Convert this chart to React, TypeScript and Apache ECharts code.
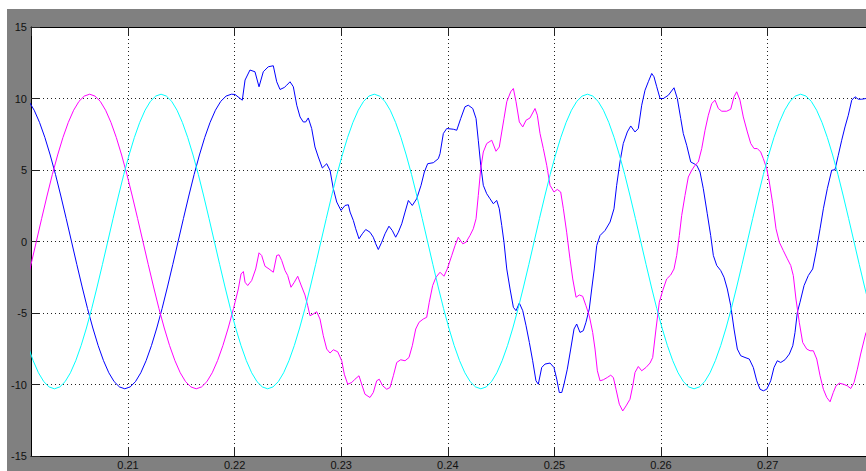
import React, { useEffect, useRef } from "react";
import * as echarts from "echarts";

// time axis in milliseconds (labels shown in seconds)
const X_MIN = 200.9;
const X_MAX = 279.23;
const xTickValues = [210, 220, 230, 240, 250, 260, 270];
const yTickValues = [-15, -10, -5, 0, 5, 10, 15];

const sampleStep = 0.5;

// cyan phase: clean sinusoid
const cyanStart = 200.6;
const cyanValues = [
  -7.28, -8.33, -9.18, -9.8, -10.17, -10.3, -10.17, -9.8, -9.18, -8.33, -7.28, -6.05, -4.68, -3.18, -1.61, 0, 1.61, 3.18, 4.68, 6.05,
  7.28, 8.33, 9.18, 9.8, 10.17, 10.3, 10.17, 9.8, 9.18, 8.33, 7.28, 6.05, 4.68, 3.18, 1.61, 0, -1.61, -3.18, -4.68, -6.05,
  -7.28, -8.33, -9.18, -9.8, -10.17, -10.3, -10.17, -9.8, -9.18, -8.33, -7.28, -6.05, -4.68, -3.18, -1.61, 0, 1.61, 3.18, 4.68, 6.05,
  7.28, 8.33, 9.18, 9.8, 10.17, 10.3, 10.17, 9.8, 9.18, 8.33, 7.28, 6.05, 4.68, 3.18, 1.61, 0, -1.61, -3.18, -4.68, -6.05,
  -7.28, -8.33, -9.18, -9.8, -10.17, -10.3, -10.17, -9.8, -9.18, -8.33, -7.28, -6.05, -4.68, -3.18, -1.61, 0, 1.61, 3.18, 4.68, 6.05,
  7.28, 8.33, 9.18, 9.8, 10.17, 10.3, 10.17, 9.8, 9.18, 8.33, 7.28, 6.05, 4.68, 3.18, 1.61, 0, -1.61, -3.18, -4.68, -6.05,
  -7.28, -8.33, -9.18, -9.8, -10.17, -10.3, -10.17, -9.8, -9.18, -8.33, -7.28, -6.05, -4.68, -3.18, -1.61, 0, 1.61, 3.18, 4.68, 6.05,
  7.28, 8.33, 9.18, 9.8, 10.17, 10.3, 10.17, 9.8, 9.18, 8.33, 7.28, 6.05, 4.68, 3.18, 1.61, 0, -1.61, -3.18, -4.68,
];

// blue phase: clean part, then distorted part
const blueCleanStart = 200.7;
const blueCleanValues = [
  9.8, 9.18, 8.33, 7.28, 6.05, 4.68, 3.18, 1.61, 0, -1.61, -3.18, -4.68, -6.05, -7.28, -8.33, -9.18, -9.8, -10.17, -10.3, -10.17,
  -9.8, -9.18, -8.33, -7.28, -6.05, -4.68, -3.18, -1.61, 0, 1.61, 3.18, 4.68, 6.05, 7.28, 8.33, 9.18, 9.8, 10.17, 10.3,
];
const blueDistorted: [number, number][] = [
  [220.04, 10.28], [220.72, 9.88], [220.98, 11.29], [221.44, 11.99], [221.91, 11.87], [222.29, 10.82], [222.69, 11.87],
  [223.16, 12.22], [223.63, 12.29], [223.95, 11.17], [224.26, 10.63], [224.66, 10.77], [224.89, 10.93], [225.2, 11.17],
  [225.51, 10.82], [225.83, 9.53], [226.14, 8.71], [226.44, 8.36], [226.67, 8.36], [226.91, 8.64], [227.23, 7.9],
  [227.54, 6.61], [227.85, 5.91], [228.23, 5.14], [228.64, 5.44], [228.95, 4.98], [229.26, 3.69], [229.58, 2.76],
  [229.98, 2.17], [230.36, 2.52], [230.67, 2.57], [230.83, 2.06], [231.14, 1.47], [231.36, 0.89], [231.67, 0.19],
  [231.98, 0.54], [232.3, 0.84], [232.7, 0.65], [233.01, 0.3], [233.24, -0.16], [233.48, -0.56], [233.8, -0.05],
  [234.11, 0.54], [234.48, 1.07], [234.79, 0.77], [235.11, 0.3], [235.36, 0.65], [235.68, 1.24], [235.99, 2.06],
  [236.3, 2.87], [236.67, 2.52], [237.08, 2.99], [237.49, 3.93], [237.8, 4.86], [238.11, 5.44], [238.64, 5.51],
  [239.11, 5.79], [239.27, 6.14], [239.58, 7.55], [239.9, 7.9], [240.52, 7.85], [240.84, 7.78], [241.21, 8.6],
  [241.61, 9.42], [241.92, 9.53], [242.34, 9.3], [242.65, 8.6], [242.86, 7.08], [243.09, 5.33], [243.33, 3.93],
  [243.65, 3.34], [243.96, 2.99], [244.27, 2.64], [244.59, 2.87], [244.83, 2.29], [245.06, 1.12], [245.27, -0.05],
  [245.53, -1.92], [245.84, -3.32], [246.15, -4.6], [246.4, -4.84], [246.71, -4.3], [247.03, -4.84], [247.34, -5.89],
  [247.65, -7.06], [247.96, -8.34], [248.27, -9.74], [248.49, -9.98], [248.81, -8.81], [249.12, -8.57], [249.59, -8.5],
  [249.96, -8.81], [250.22, -9.63], [250.46, -10.56], [250.69, -10.56], [250.9, -9.98], [251.21, -8.93], [251.53, -7.52],
  [251.84, -6.12], [252.09, -5.77], [252.4, -6.36], [252.71, -6.24], [252.96, -5.65], [253.27, -4.72], [253.5, -3.32],
  [253.74, -1.92], [253.97, -0.28], [254.28, 0.42], [254.75, 0.77], [255.22, 1.36], [255.59, 2.29], [255.84, 3.93],
  [256.15, 5.56], [256.46, 6.85], [256.84, 7.66], [257.16, 8.08], [257.56, 7.66], [257.87, 7.9], [258.19, 9.53],
  [258.5, 10.58], [258.81, 11.17], [259.13, 11.75], [259.34, 11.52], [259.6, 10.82], [259.91, 10.0], [260.22, 10.0],
  [260.69, 10.23], [261.22, 10.75], [261.53, 10.0], [261.85, 8.6], [262.09, 7.55], [262.41, 6.73], [262.79, 5.56],
  [263.1, 5.44], [263.35, 5.33], [263.66, 4.86], [263.97, 3.69], [264.34, 1.94], [264.66, 0.42], [264.91, -0.98],
  [265.23, -1.68], [265.6, -2.03], [265.91, -2.5], [266.22, -3.32], [266.54, -4.49], [266.85, -6.12], [267.16, -7.52],
  [267.48, -7.99], [267.88, -8.11], [268.28, -8.22], [268.66, -8.81], [268.98, -9.74], [269.29, -10.33], [269.6, -10.44],
  [269.92, -10.33], [270.29, -9.74], [270.6, -8.81], [270.91, -8.34], [271.23, -8.46], [271.63, -8.27], [272.04, -7.87],
  [272.36, -7.29], [272.57, -6.36], [272.79, -4.95], [273.04, -4.25], [273.42, -3.08], [273.82, -2.38], [274.23, -1.92],
  [274.54, -0.75], [274.92, 0.89], [275.23, 2.29], [275.6, 3.69], [276.01, 4.98], [276.32, 5.02], [276.63, 6.03],
  [276.95, 7.08], [277.26, 8.01], [277.57, 8.83], [277.89, 9.88], [278.2, 10.12], [278.51, 9.95], [278.83, 9.95],
  [279.23, 10.0],
];

// magenta phase: clean part, then distorted part
const magentaCleanStart = 200.4;
const magentaCleanValues = [
  -3.18, -1.61, 0, 1.61, 3.18, 4.68, 6.05, 7.28, 8.33, 9.18, 9.8, 10.17, 10.3, 10.17, 9.8, 9.18, 8.33, 7.28, 6.05, 4.68,
  3.18, 1.61, 0, -1.61, -3.18, -4.68, -6.05, -7.28, -8.33, -9.18, -9.8, -10.17, -10.3, -10.17, -9.8, -9.18, -8.33, -7.28, -6.05, -4.68,
];
const magentaDistorted: [number, number][] = [
  [220.04, -4.25], [220.35, -3.32], [220.6, -2.27], [220.82, -2.1], [220.98, -2.85], [221.23, -3.08], [221.6, -2.73],
  [221.98, -1.92], [222.29, -0.79], [222.54, -0.98], [222.85, -1.73], [223.23, -1.92], [223.63, -2.15], [223.95, -0.98],
  [224.17, -0.93], [224.42, -1.33], [224.73, -2.03], [224.98, -2.38], [225.29, -3.2], [225.6, -2.85], [225.92, -2.43],
  [226.23, -3.04], [226.6, -3.74], [226.86, -4.49], [227.07, -5.19], [227.38, -5.07], [227.7, -4.91], [228.01, -5.42],
  [228.32, -6.59], [228.64, -7.52], [228.95, -7.8], [229.26, -7.57], [229.67, -7.71], [230.05, -8.34], [230.29, -9.28],
  [230.61, -9.98], [230.99, -9.86], [231.29, -9.63], [231.67, -9.39], [231.92, -9.98], [232.23, -10.68], [232.7, -10.91],
  [233.01, -10.56], [233.33, -9.74], [233.57, -9.63], [233.89, -10.09], [234.27, -10.33], [234.58, -10.21], [234.89, -9.39],
  [235.21, -8.46], [235.58, -8.27], [235.99, -8.34], [236.36, -8.11], [236.67, -7.29], [236.99, -6.12], [237.3, -5.65],
  [237.7, -5.42], [238.02, -5.3], [238.26, -4.25], [238.58, -3.08], [238.89, -2.5], [239.27, -2.15], [239.64, -2.43],
  [239.95, -1.92], [240.37, -0.98], [240.68, -0.28], [240.98, 0.3], [241.4, -0.16], [241.71, -0.05], [242.08, 0.42],
  [242.39, 0.89], [242.65, 1.59], [242.86, 3.22], [243.09, 5.09], [243.33, 6.26], [243.65, 6.85], [244.12, 7.08],
  [244.52, 6.31], [244.83, 6.61], [245.06, 7.66], [245.27, 8.6], [245.53, 9.77], [245.9, 10.47], [246.15, 10.7],
  [246.4, 9.77], [246.71, 8.36], [247.03, 8.01], [247.34, 8.48], [247.71, 8.64], [248.18, 9.3], [248.4, 8.83],
  [248.65, 7.55], [248.96, 6.5], [249.28, 5.33], [249.59, 3.93], [249.96, 3.46], [250.27, 3.64], [250.59, 3.46],
  [250.84, 2.29], [251.15, 0.65], [251.46, -1.21], [251.72, -2.62], [252.03, -3.9], [252.34, -3.74], [252.65, -3.83],
  [252.96, -4.49], [253.27, -5.19], [253.59, -6.36], [253.81, -7.52], [254.03, -9.04], [254.28, -9.74], [254.59, -9.67],
  [254.96, -9.51], [255.28, -9.35], [255.53, -9.51], [255.78, -10.33], [256.09, -11.38], [256.41, -11.85], [256.72, -11.5],
  [257.09, -11.03], [257.35, -10.09], [257.56, -9.16], [257.87, -8.74], [258.19, -9.04], [258.59, -8.81], [258.97, -8.5],
  [259.22, -8.11], [259.53, -6.12], [259.84, -4.25], [260.16, -3.43], [260.53, -2.62], [260.91, -2.34], [261.22, -1.92],
  [261.47, -0.98], [261.72, 0.42], [261.94, 1.82], [262.25, 3.22], [262.56, 4.51], [262.88, 4.98], [263.19, 5.33],
  [263.5, 5.56], [263.82, 6.5], [264.13, 7.78], [264.44, 8.83], [264.76, 9.65], [265.07, 9.88], [265.38, 9.3],
  [265.7, 9.11], [266.16, 9.11], [266.54, 9.25], [266.85, 10.12], [267.1, 10.47], [267.41, 9.88], [267.72, 8.71],
  [268.1, 7.66], [268.42, 6.85], [268.73, 6.5], [269.03, 6.5], [269.35, 6.26], [269.6, 5.79], [269.92, 5.09],
  [270.16, 4.16], [270.48, 2.64], [270.79, 0.89], [271.1, -0.05], [271.47, -0.63], [271.85, -1.21], [272.17, -1.68],
  [272.41, -2.38], [272.66, -4.02], [272.97, -5.65], [273.29, -7.06], [273.67, -7.52], [273.98, -7.64], [274.29, -7.64],
  [274.61, -8.22], [274.92, -9.39], [275.23, -10.33], [275.55, -10.91], [275.86, -11.21], [276.16, -10.56], [276.42, -10.09],
  [276.73, -9.91], [277.1, -9.98], [277.48, -10.09], [277.8, -10.28], [278.11, -9.86], [278.42, -8.93], [278.73, -7.87],
  [279.23, -6.36],
];

function sampled(start: number, values: number[]): [number, number][] {
  return values.map((v, i) => [Number((start + i * sampleStep).toFixed(2)), v]);
}

const FONT = "'Liberation Sans Narrow', 'Arial Narrow', 'Liberation Sans', Arial, sans-serif";

export default function App() {
  const ref = useRef<HTMLDivElement>(null);

  useEffect(() => {
    if (!ref.current) return;
    const chart = echarts.init(ref.current, undefined, { renderer: "svg" });

    const blueData = sampled(blueCleanStart, blueCleanValues).concat(blueDistorted);
    const magentaData = sampled(magentaCleanStart, magentaCleanValues).concat(magentaDistorted);
    const cyanData = sampled(cyanStart, cyanValues);

    const isTick = (v: number) =>
      xTickValues.some((t) => Math.abs(t - v) < 1e-6);

    const xCommon = {
      type: "value" as const,
      min: X_MIN,
      max: X_MAX,
      minInterval: 10,
      maxInterval: 10,
    };

    chart.setOption({
      animation: false,
      backgroundColor: "transparent",
      grid: {
        left: 31,
        top: 27,
        right: 0,
        bottom: 15,
        show: true,
        backgroundColor: "#ffffff",
        borderWidth: 0,
        containLabel: false,
      },
      xAxis: [
        {
          ...xCommon,
          position: "bottom",
          axisLine: { show: true, onZero: false, lineStyle: { color: "#000", width: 1 } },
          axisTick: { show: true, inside: true, length: 9, lineStyle: { color: "#222", width: 1 } },
          axisLabel: {
            show: true,
            margin: 3,
            color: "#111",
            fontSize: 11,
            fontFamily: FONT,
            showMinLabel: false,
            showMaxLabel: false,
            formatter: (v: number) => (isTick(v) ? (v / 1000).toFixed(2) : ""),
          },
          splitLine: { show: true, lineStyle: { color: "#222", width: 1, type: [1, 3] } },
        },
        {
          ...xCommon,
          position: "top",
          axisLine: { show: true, onZero: false, lineStyle: { color: "#000", width: 1 } },
          axisTick: { show: true, inside: true, length: 9, lineStyle: { color: "#222", width: 1 } },
          axisLabel: { show: false },
          splitLine: { show: false },
        },
      ],
      yAxis: {
        type: "value",
        min: yTickValues[0],
        max: yTickValues[yTickValues.length - 1],
        interval: 5,
        axisLine: { show: true, onZero: false, lineStyle: { color: "#000", width: 1 } },
        axisTick: { show: true, inside: true, length: 9, lineStyle: { color: "#222", width: 1 } },
        axisLabel: {
          show: true,
          margin: 4,
          color: "#111",
          fontSize: 11,
          fontFamily: FONT,
          formatter: (v: number) => String(v),
        },
        splitLine: { show: true, lineStyle: { color: "#222", width: 1, type: [1, 3] } },
      },
      series: [
        {
          name: "Phase B",
          type: "line",
          data: blueData,
          showSymbol: false,
          symbol: "none",
          clip: true,
          lineStyle: { color: "#0000ff", width: 1 },
          itemStyle: { color: "#0000ff" },
        },
        {
          name: "Phase A",
          type: "line",
          data: magentaData,
          showSymbol: false,
          symbol: "none",
          clip: true,
          lineStyle: { color: "#ff00ff", width: 1 },
          itemStyle: { color: "#ff00ff" },
        },
        {
          name: "Phase C",
          type: "line",
          data: cyanData,
          showSymbol: false,
          symbol: "none",
          clip: true,
          lineStyle: { color: "#00ffff", width: 1 },
          itemStyle: { color: "#00ffff" },
        },
      ],
    });

    return () => chart.dispose();
  }, []);

  return (
    <div style={{ position: "fixed", left: 0, top: 0, width: 866, height: 471, background: "#ffffff", overflow: "hidden" }}>
      <div style={{ position: "absolute", left: 7, top: 9, width: 859, height: 462, background: "#808080" }} />
      <div ref={ref} style={{ position: "absolute", left: 0, top: 0, width: 866, height: 471 }} />
    </div>
  );
}
